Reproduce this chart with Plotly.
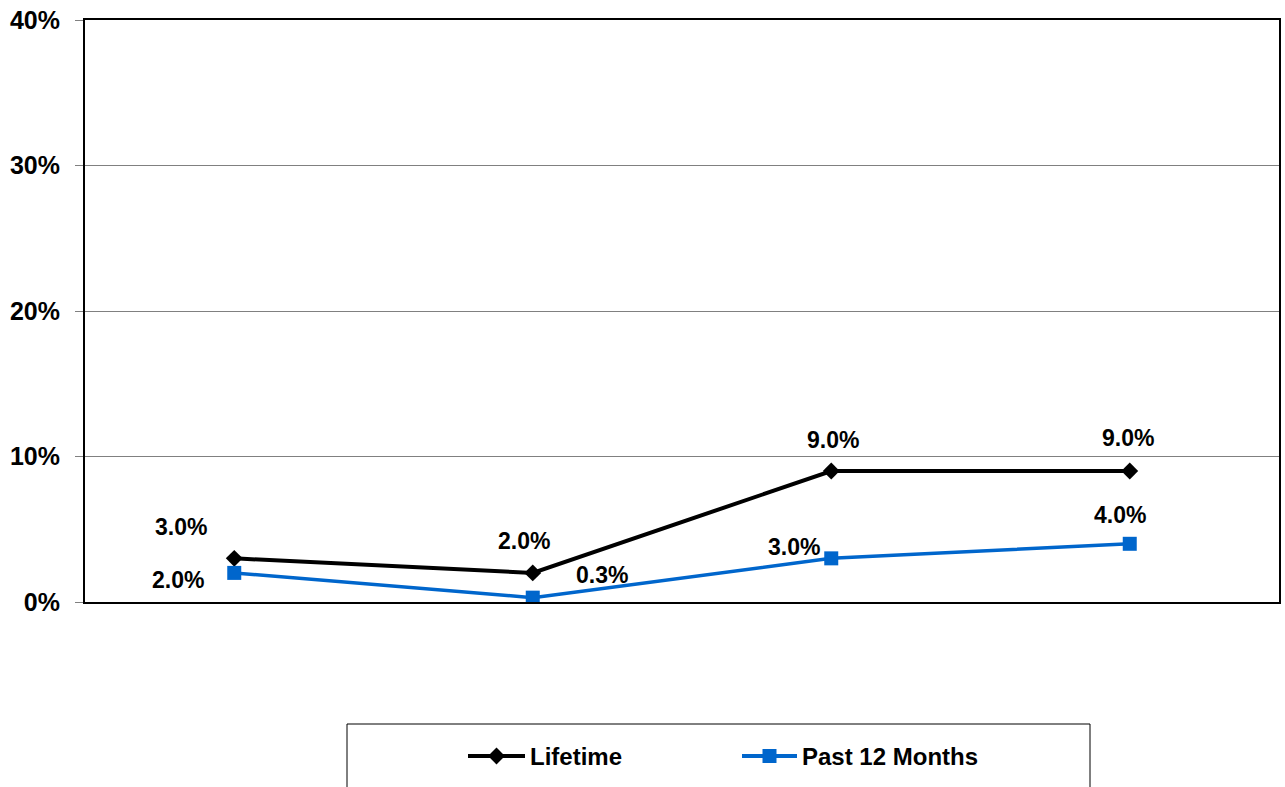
import plotly.graph_objects as go

# Four survey groups (no category labels are printed on the axis)
groups = [0, 1, 2, 3]
lifetime = [3.0, 2.0, 9.0, 9.0]
past_12_months = [2.0, 0.3, 3.0, 4.0]
series_names = ["Lifetime", "Past 12 Months"]
y_ticks = [0, 10, 20, 30, 40]
y_tick_text = ["0%", "10%", "20%", "30%", "40%"]

W, H = 1285, 787
FONT = "Arial, 'Liberation Sans', sans-serif"
BLACK = "#000000"
BLUE = "#0066CC"

# label offsets in pixels (xshift, yshift) for each point's value label
life_offsets = [(-53, 31), (-9, 32), (2, 31), (-2, 33)]
past_offsets = [(-56, -7), (69, 23), (-37, 11), (-10, 29)]

fig = go.Figure()

fig.add_trace(go.Scatter(
    x=groups, y=lifetime, mode="lines+markers", name=series_names[0],
    line=dict(color=BLACK, width=4),
    marker=dict(symbol="diamond", size=13, color=BLACK),
    xaxis="x", yaxis="y", showlegend=False,
))
fig.add_trace(go.Scatter(
    x=groups, y=past_12_months, mode="lines+markers", name=series_names[1],
    line=dict(color=BLUE, width=3.5),
    marker=dict(symbol="square", size=14, color=BLUE),
    xaxis="x", yaxis="y", showlegend=False,
))

annotations = []
for vals, offs in ((lifetime, life_offsets), (past_12_months, past_offsets)):
    for g, v, (dx, dy) in zip(groups, vals, offs):
        annotations.append(dict(
            x=g, y=v, xref="x", yref="y", text=f"<b>{v:.1f}%</b>", showarrow=False,
            xshift=dx, yshift=dy, xanchor="center", yanchor="middle",
            font=dict(family=FONT, size=23, color=BLACK),
        ))

# Legend drawn on a pixel-space overlay axis
leg_y = 756
leg_items = [
    (series_names[0], BLACK, "diamond", 13, 468, 525, 528),
    (series_names[1], BLUE, "square", 14, 742, 797, 800),
]
shapes = [dict(type="rect", xref="x2", yref="y2", x0=347, x1=1090, y0=724, y1=820,
               line=dict(color="#000000", width=1), fillcolor="rgba(0,0,0,0)")]
for name, col, sym, sz, x0, x1, tx in leg_items:
    shapes.append(dict(type="line", xref="x2", yref="y2", x0=x0, x1=x1, y0=leg_y, y1=leg_y,
                       line=dict(color=col, width=4)))
    fig.add_trace(go.Scatter(
        x=[(x0 + x1) / 2], y=[leg_y], mode="markers", xaxis="x2", yaxis="y2",
        marker=dict(symbol=sym, size=sz, color=col), showlegend=False, hoverinfo="skip",
    ))
    annotations.append(dict(
        x=tx, y=leg_y, xref="x2", yref="y2", text=f"<b>{name}</b>", showarrow=False,
        xanchor="left", yanchor="middle", font=dict(family=FONT, size=24, color=BLACK),
    ))

fig.update_layout(
    width=W, height=H,
    margin=dict(l=0, r=0, t=0, b=0, pad=0),
    paper_bgcolor="white", plot_bgcolor="rgba(0,0,0,0)",
    showlegend=False,
    xaxis=dict(
        domain=[85 / W, 1279 / W], range=[-0.5, 3.5], automargin=False,
        showticklabels=False, ticks="", showgrid=False, zeroline=False,
        showline=True, linecolor=BLACK, linewidth=2, mirror=True,
    ),
    yaxis=dict(
        domain=[1 - 602 / H, 1 - 20 / H], range=[0, 40], automargin=False,
        tickvals=y_ticks, ticktext=[f"<b>{t}</b>" for t in y_tick_text],
        tickfont=dict(family=FONT, size=25, color=BLACK),
        ticks="outside", ticklen=8, tickcolor="#808080", tickwidth=1,
        ticklabelstandoff=10,
        showgrid=True, gridcolor="#808080", gridwidth=1, zeroline=False,
        showline=True, linecolor=BLACK, linewidth=2, mirror=True,
    ),
    xaxis2=dict(domain=[0, 1], range=[0, W], visible=False, anchor="y2",
                fixedrange=True, automargin=False),
    yaxis2=dict(domain=[0, 1], range=[H, 0], visible=False, anchor="x2",
                fixedrange=True, automargin=False),
    shapes=shapes,
    annotations=annotations,
    font=dict(family=FONT, color=BLACK),
)

fig.write_html("out.html")
